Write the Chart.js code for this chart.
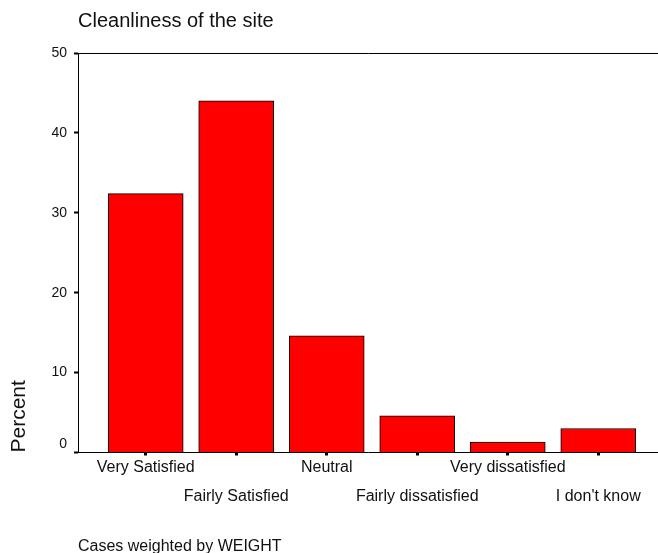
<!DOCTYPE html>
<html>
<head>
<meta charset="utf-8">
<script src="https://cdn.jsdelivr.net/npm/chart.js@4"></script>
<style>
  html, body { margin: 0; padding: 0; background: #fff; }
  #wrap { width: 658px; height: 553px; }
</style>
</head>
<body>
<div id="wrap"><canvas id="chart"></canvas></div>
<script>
const categories = ["Very Satisfied", "Fairly Satisfied", "Neutral", "Fairly dissatisfied", "Very dissatisfied", "I don't know"];
const percents = [32.4, 44.0, 14.6, 4.6, 1.3, 3.0];
const yTicks = [0, 10, 20, 30, 40, 50];

const font = "'Liberation Sans', Arial, sans-serif";

// bars sit on a linear x scale so the first bar can be inset from the y axis
const points = categories.map((c, i) => ({ x: i, y: percents[i] }));

new Chart(document.getElementById("chart"), {
  type: "bar",
  data: {
    datasets: [{
      data: points,
      backgroundColor: "#ff0000",
      borderColor: "#000",
      borderWidth: 1,
      barThickness: 75
    }]
  },
  options: {
    responsive: true,
    maintainAspectRatio: false,
    animation: false,
    layout: { padding: 0 },
    plugins: {
      legend: { display: false },
      tooltip: { enabled: false },
      title: {
        display: true,
        text: "Cleanliness of the site",
        align: "start",
        fullSize: false,
        color: "#111",
        font: { family: font, size: 20, weight: "normal" },
        padding: { top: 9, bottom: 12 }
      },
      subtitle: {
        display: true,
        text: "Cases weighted by WEIGHT",
        position: "bottom",
        align: "start",
        fullSize: false,
        color: "#111",
        font: { family: font, size: 16, lineHeight: 1 },
        padding: { top: 30, bottom: -2 }
      }
    },
    scales: {
      x: {
        type: "linear",
        min: -0.748,
        max: 5.66,
        offset: false,
        ticks: {
          stepSize: 1,
          includeBounds: false,
          autoSkip: false,
          maxRotation: 0,
          padding: 5,
          color: "#111",
          font: { family: font, size: 16, lineHeight: "14.5px" },
          callback: (v) => {
            const label = categories[v];
            if (label === undefined) return "";
            return v % 2 === 0 ? [label] : ["", "", label];
          }
        },
        grid: {
          offset: false,
          drawOnChartArea: false,
          color: "#000",
          tickLength: 3,
          tickWidth: 3
        },
        border: { display: true, color: "#000", width: 1 }
      },
      top: {
        type: "linear",
        position: "top",
        ticks: { display: false },
        grid: { display: false },
        border: { display: true, color: "#000", width: 1 }
      },
      y: {
        min: 0,
        max: 50,
        afterBuildTicks: (scale) => { scale.ticks = yTicks.map(v => ({ value: v })); },
        afterFit: (scale) => { scale.width = 78; },
        ticks: {
          padding: 7,
          color: "#111",
          font: { family: font, size: 14 },
          callback: (v) => v === 0 ? ["0", ""] : String(v)
        },
        grid: {
          drawOnChartArea: false,
          color: "#000",
          tickLength: 4,
          tickWidth: 2
        },
        border: { display: true, color: "#000", width: 1 },
        title: {
          display: true,
          text: "Percent",
          align: "start",
          color: "#111",
          font: { family: font, size: 21 },
          padding: { top: 7, bottom: 0 }
        }
      }
    }
  }
});
</script>
</body>
</html>
